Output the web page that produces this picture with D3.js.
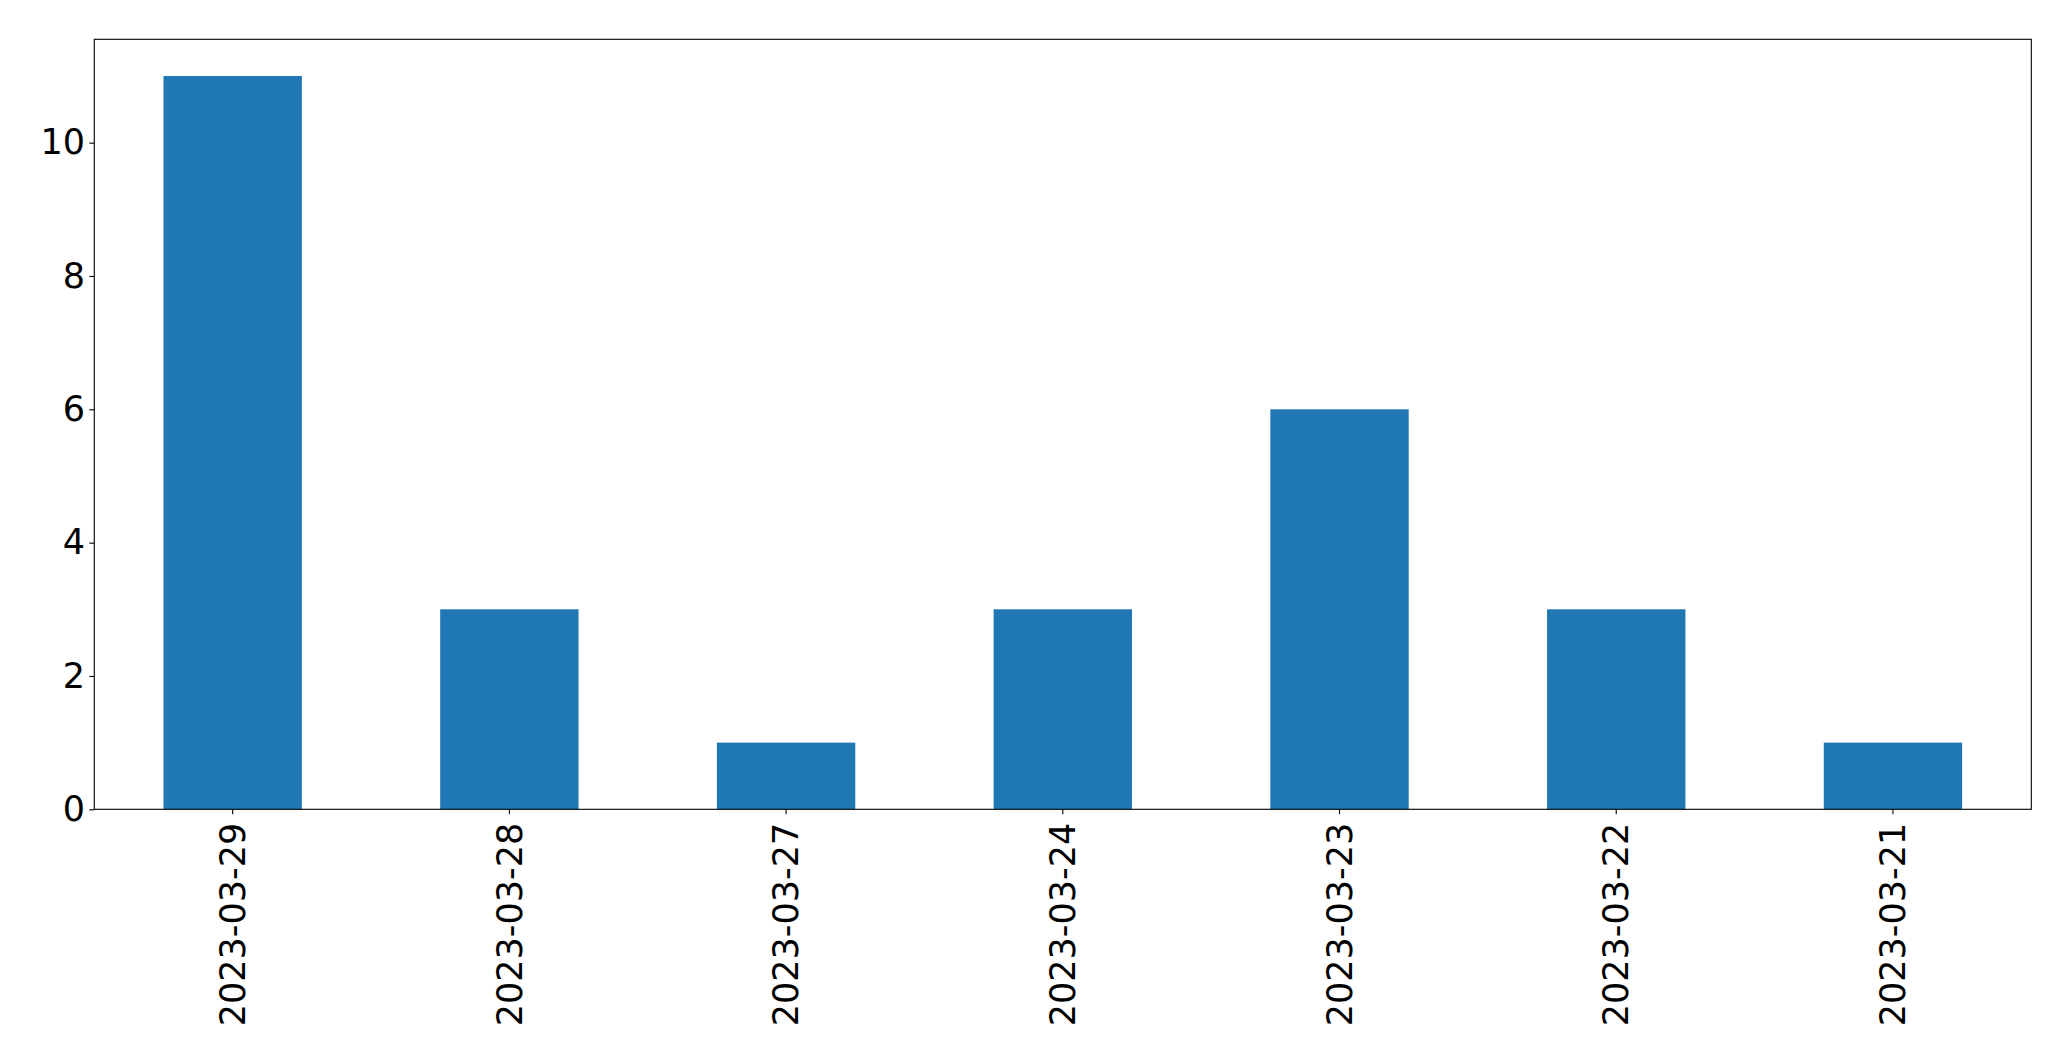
<!DOCTYPE html>
<html>
<head>
<meta charset="utf-8">
<script src="https://cdn.jsdelivr.net/npm/d3@7"></script>
<style>
  html, body { margin: 0; padding: 0; background: #fff; }
  svg { display: block; }
  text { font-family: "DejaVu Sans", sans-serif; fill: #000; }
</style>
</head>
<body>
<svg id="chart" width="2071" height="1061"></svg>
<script>
const categories = ["2023-03-29", "2023-03-28", "2023-03-27", "2023-03-24", "2023-03-23", "2023-03-22", "2023-03-21"];
const values = [11, 3, 1, 3, 6, 3, 1];
const yTicks = [0, 2, 4, 6, 8, 10];

const W = 2071, H = 1061;
const m = { left: 94.3, right: W - 2031.3, top: 39.3, bottom: H - 809.3 };
const svg = d3.select("#chart");

const x = d3.scaleBand().domain(categories)
  .range([m.left, W - m.right]).paddingInner(0.5).paddingOuter(0.25);
const y = d3.scaleLinear().domain([0, d3.max(values) * 1.05])
  .range([H - m.bottom, m.top]);

svg.append("g").selectAll("rect").data(categories).join("rect")
  .attr("x", d => x(d))
  .attr("width", x.bandwidth())
  .attr("y", (d, i) => y(values[i]))
  .attr("height", (d, i) => y(0) - y(values[i]))
  .attr("fill", "#1f77b4");

const fs = 35;
const xAxis = svg.append("g")
  .attr("transform", `translate(0,${H - m.bottom})`)
  .call(d3.axisBottom(x).tickSize(5).tickPadding(0));
xAxis.select(".domain").remove();
xAxis.selectAll(".tick line").attr("stroke", "#000").attr("stroke-width", 1.1);
xAxis.selectAll(".tick text")
  .attr("font-size", fs)
  .attr("font-family", "DejaVu Sans")
  .attr("fill", "#000")
  .attr("text-anchor", "end")
  .attr("transform", "rotate(-90)")
  .attr("x", -13.5)
  .attr("y", 0)
  .attr("dy", "0.35em");

const yAxis = svg.append("g")
  .attr("transform", `translate(${m.left},0)`)
  .call(d3.axisLeft(y).tickValues(yTicks).tickFormat(d3.format("d")).tickSize(5).tickPadding(4.3));
yAxis.select(".domain").remove();
yAxis.selectAll(".tick line").attr("stroke", "#000").attr("stroke-width", 1.1);
yAxis.selectAll(".tick text")
  .attr("font-size", fs)
  .attr("font-family", "DejaVu Sans")
  .attr("fill", "#000");

svg.append("rect")
  .attr("x", m.left).attr("y", m.top)
  .attr("width", W - m.right - m.left)
  .attr("height", H - m.bottom - m.top)
  .attr("fill", "none").attr("stroke", "#000").attr("stroke-width", 1.1);
</script>
</body>
</html>
